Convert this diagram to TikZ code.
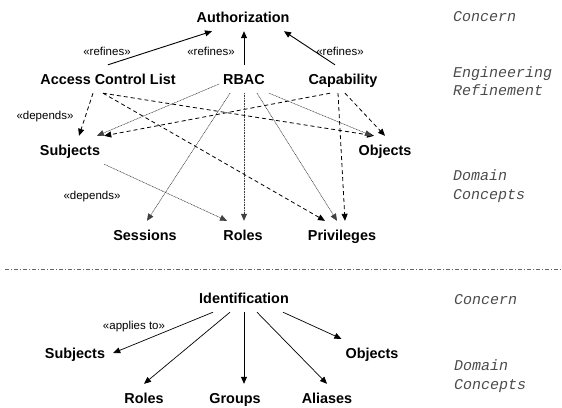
\documentclass[tikz,border=0pt]{standalone}
\usepackage{fontspec}
\setmainfont{Liberation Sans}
\setmonofont{Liberation Mono}
\usetikzlibrary{arrows.meta}

\begin{document}
\begin{tikzpicture}[x=1pt,y=-1pt,>={Triangle[length=7pt,width=6pt]},
  main node/.style={font=\fontsize{14.4}{16}\selectfont\bfseries,text height=13pt,text depth=3pt,inner xsep=4pt,inner ysep=6pt},
  stereo/.style={font=\fontsize{11.5}{13}\selectfont,inner sep=0pt},
  layer/.style={font=\fontsize{15}{18.5}\selectfont\ttfamily\itshape,text=black!70,align=left,anchor=west,inner sep=0pt},
  refines/.style={->,line width=0.9pt},
  depends/.style={->,line width=0.8pt,dash pattern=on 4pt off 3pt},
  uses/.style={->,densely dotted,line width=0.6pt,draw=black!75,fill=black},
  applies/.style={->,line width=0.7pt}]

  \useasboundingbox (0,0) rectangle (562,407);

  % access control
  \node[main node] (auth) at (243,17) {Authorization};
  \node[main node] (acl) at (108,79) {Access Control List};
  \node[main node] (rbac) at (244,79) {RBAC};
  \node[main node] (cap) at (343,79) {Capability};
  \node[main node] (subj) at (70,150) {Subjects};
  \node[main node] (obj) at (385,150) {Objects};
  \node[main node] (sess) at (145,235) {Sessions};
  \node[main node] (roles) at (243,235) {Roles};
  \node[main node] (priv) at (342,235) {Privileges};

  \node[stereo] (ref1) at (107,51) {«refines»};
  \node[stereo] (ref2) at (211,51) {«refines»};
  \node[stereo] (ref3) at (340,51) {«refines»};
  \node[stereo] (dep1) at (45,117) {«depends»};
  \node[stereo] (dep2) at (92,197) {«depends»};

  \draw[refines] (acl.north) -- ([xshift=-31pt]auth.south);
  \draw[refines] (rbac.north) -- (rbac.north |- auth.south);
  \draw[refines] ([xshift=-8pt]cap.north) -- ([xshift=41pt]auth.south);

  \draw[depends] ([xshift=-15pt]acl.south) -- ([xshift=9pt]subj.north);
  \draw[depends] ([xshift=-5pt]acl.south) -- ([xshift=-11pt]obj.north);
  \draw[depends] ([xshift=-5pt]acl.south) -- ([xshift=-17pt]priv.north);
  \draw[depends] ([xshift=-13pt]cap.south) -- (subj.north east);
  \draw[depends] ([xshift=2pt]cap.south) -- (obj.north);
  \draw[depends] ([xshift=-5pt]cap.south) -- ([xshift=3pt]priv.north);

  \draw[uses] ([yshift=-5pt]rbac.west) -- ([xshift=27pt]subj.north);
  \draw[uses] ([xshift=-14pt]rbac.south) -- ([xshift=2pt]sess.north);
  \draw[uses] (rbac.south) -- (rbac.south |- roles.north);
  \draw[uses] ([xshift=13pt]rbac.south) -- ([xshift=-5pt]priv.north);
  \draw[uses] (rbac.south east) -- ([xshift=-13pt]obj.north);
  \draw[uses] (subj.south east) -- ([xshift=-16pt]roles.north);

  \node[layer] (concern) at (453,17) {Concern};
  \node[layer] (engref) at (453,81) {Engineering\\Refinement};
  \node[layer] (domain) at (453,186) {Domain\\Concepts};

  \draw[black!60,line width=0.5pt,dash pattern=on 4pt off 2pt on 1pt off 2pt] (5,269) -- (562,269);

  % identification
  \node[main node] (ident) at (244,298) {Identification};
  \node[main node] (bsubj) at (75,353) {Subjects};
  \node[main node] (bobj) at (372,353) {Objects};
  \node[main node] (broles) at (144,398) {Roles};
  \node[main node] (groups) at (235,398) {Groups};
  \node[main node] (aliases) at (327,398) {Aliases};

  \node[stereo] (appl) at (134,327) {«applies to»};

  \draw[applies] ([xshift=-31pt]ident.south) -- ([xshift=4pt]bsubj.east);
  \draw[applies] ([xshift=-14pt]ident.south) -- (broles.north);
  \draw[applies] (ident.south) -- (ident.south |- groups.north);
  \draw[applies] ([xshift=13pt]ident.south) -- (aliases.north);
  \draw[applies] ([xshift=-10pt]ident.south east) -- (bobj.north west);

  \node[layer] (bconcern) at (454,300) {Concern};
  \node[layer] (bdomain) at (454,376) {Domain\\Concepts};

\end{tikzpicture}
\end{document}
